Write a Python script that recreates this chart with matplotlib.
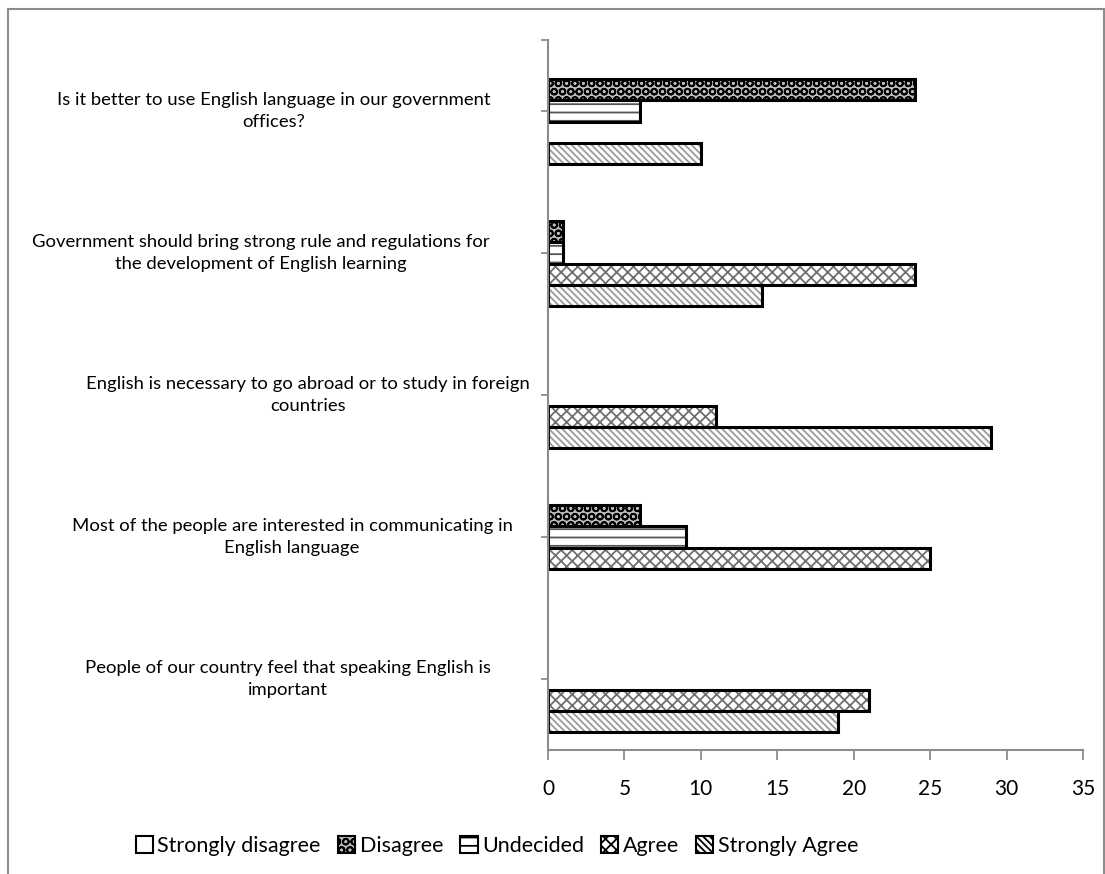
import matplotlib
matplotlib.use("Agg")
import matplotlib.pyplot as plt
from matplotlib.patches import Rectangle, Patch
import numpy as np

# Survey statements, bottom to top
questions = [
    "People of our country feel that speaking English is\nimportant",
    "Most of the people are interested in communicating in\nEnglish language",
    "English is necessary to go abroad or to study in foreign\ncountries",
    "Government should bring strong rule and regulations for\nthe development of English learning",
    "Is it better to use English language in our government\noffices?",
]
series = ["Strongly disagree", "Disagree", "Undecided", "Agree", "Strongly Agree"]

strongly_disagree = [0, 0, 0, 0, 0]
disagree = [0, 6, 0, 1, 24]
undecided = [0, 9, 0, 1, 6]
agree = [21, 25, 11, 24, 0]
strongly_agree = [19, 0, 29, 14, 10]
xticks = [0, 5, 10, 15, 20, 25, 30, 35]

values = [strongly_disagree, disagree, undecided, agree, strongly_agree]
hatches = ["", "OO", "--", "xxx", "\\\\\\\\\\"]
hatch_colors = ["white", "black", "#555555", "#707070", "#9a9a9a"]
face_colors = ["white", "#bdbdbd", "white", "white", "white"]

plt.rcParams["font.family"] = ["Lato", "DejaVu Sans"]
plt.rcParams["hatch.linewidth"] = 1.3

W, H = 1105, 874
fig = plt.figure(figsize=(W / 100, H / 100), dpi=100)

# outer chart-area border
fig.patches.append(Rectangle((8 / W, -0.05), (1104 - 8) / W, 1.05 - 9 / H,
                             transform=fig.transFigure, fill=False,
                             edgecolor="#8c8c8c", linewidth=1.5))

ax = fig.add_axes([548 / W, 1 - 750 / H, (1083 - 548) / W, (750 - 40) / H])

y = np.arange(len(questions))
h = 0.15
offsets = [2 * h, h, 0, -h, -2 * h]
for vals, off, hat, hc, fc in zip(values, offsets, hatches, hatch_colors, face_colors):
    pos = y + off
    ax.barh(pos, vals, height=h, color=fc, edgecolor=hc, hatch=hat,
            linewidth=0)
    for v, p in zip(vals, pos):
        if v > 0:
            ax.barh(p, v, height=h, fill=False, edgecolor="black", linewidth=2.2)

ax.set_xlim(0, 35)
ax.set_ylim(-0.5, 4.5)
ax.set_xticks(xticks)
ax.set_xticklabels([str(t) for t in xticks], fontsize=15)
ax.tick_params(axis="x", direction="out", length=7, width=1.3, color="#8c8c8c", pad=14)
ax.set_yticks(list(y) + [4.5])
ax.set_yticklabels([])
ax.tick_params(axis="y", direction="out", length=5, width=1.3, color="#8c8c8c")

for s in ["top", "right"]:
    ax.spines[s].set_visible(False)
for s in ["left", "bottom"]:
    ax.spines[s].set_color("#8c8c8c")
    ax.spines[s].set_linewidth(1.5)

# category labels, wrapped and centred
label_centres = [288, 292, 308, 261, 274]
for q, yy, cx in zip(questions, y, label_centres):
    ax.text((cx - 548) / 535, yy, q, transform=ax.get_yaxis_transform(),
            ha="center", va="center", multialignment="center", fontsize=13.3,
            linespacing=1.4)

handles = [Patch(facecolor=fc, edgecolor="black", hatch=hat, linewidth=1.5)
           for hat, fc in zip(hatches, face_colors)]
fig.legend(handles, series, loc="center", bbox_to_anchor=(497 / W, 1 - 846 / H),
           ncol=5, frameon=False, fontsize=15.5, handlelength=0.8, handleheight=0.8,
           handletextpad=0.2, columnspacing=0.8)

fig.savefig("out.png", dpi=100)
